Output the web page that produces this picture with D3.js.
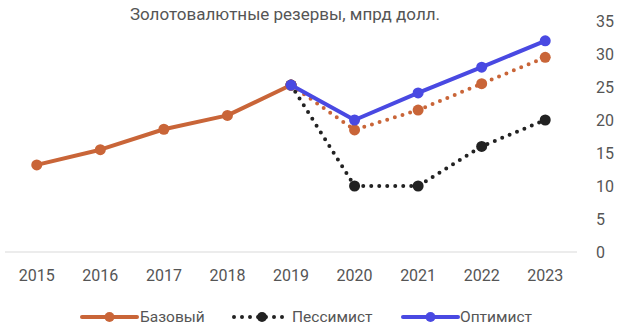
<!DOCTYPE html>
<html><head><meta charset="utf-8">
<script src="https://cdn.jsdelivr.net/npm/d3@7"></script>
<style>body{margin:0;background:#fff}svg{display:block;font-family:Roboto,"Noto Sans",sans-serif}</style>
</head><body><svg id="c" width="620" height="329"></svg>
<script>
const years = ["2015","2016","2017","2018","2019","2020","2021","2022","2023"];
const baseHist = [13.2, 15.5, 18.6, 20.7, 25.3, null, null, null, null];
const baseForecast = [null, null, null, null, 25.3, 18.5, 21.5, 25.5, 29.5];
const pessimist = [null, null, null, null, 25.3, 10, 10, 16, 20];
const optimist = [null, null, null, null, 25.3, 20, 24.1, 28, 32];
const yTicks = [0,5,10,15,20,25,30,35];
const title = "Золотовалютные резервы, мпрд долл.";
const legendNames = ["Базовый","Пессимист","Оптимист"];

const cBase = "#C96538", cPes = "#222222", cOpt = "#4949E2";
const svg = d3.select("#c");
const x = d3.scaleBand().domain(years).range([5, 577]);
const y = d3.scaleLinear().domain([0,35]).range([252, 21]);
const cx = d => x(d) + x.bandwidth()/2;

svg.append("text").attr("x",285).attr("y",20).attr("text-anchor","middle")
  .attr("font-size",17).attr("fill","#555").text(title);

// baseline
svg.append("line").attr("x1",5).attr("x2",577).attr("y1",y(0)).attr("y2",y(0))
  .attr("stroke","#d9d9d9").attr("stroke-width",1);

// right axis
const ya = d3.axisRight(y).tickValues(yTicks).tickSize(0).tickPadding(0);
const gy = svg.append("g").attr("transform","translate(596,0)").call(ya);
gy.select(".domain").remove();
gy.selectAll("text").attr("font-size",16).attr("fill","#555").attr("font-family","Roboto,sans-serif");

const xa = d3.axisBottom(x).tickSize(0).tickPadding(0);
const gx = svg.append("g").attr("transform","translate(0,270)").call(xa);
gx.select(".domain").remove();
gx.selectAll("text").attr("font-size",16).attr("fill","#555").attr("font-family","Roboto,sans-serif");

function series(vals, color, dotted, width, r) {
  const pts = years.map((yr,i)=>({yr, v: vals[i]})).filter(p=>p.v!=null);
  const line = d3.line().x(p=>cx(p.yr)).y(p=>y(p.v));
  const path = svg.append("path").datum(pts).attr("d", line).attr("fill","none")
    .attr("stroke", color).attr("stroke-width", width).attr("stroke-linecap","round").attr("stroke-linejoin","round");
  if (dotted) path.attr("stroke-dasharray","0 8");
  svg.append("g").selectAll("circle").data(pts).join("circle")
    .attr("cx", p=>cx(p.yr)).attr("cy", p=>y(p.v)).attr("r", r).attr("fill", color);
}
series(baseForecast, cBase, true, 4, 5.5);
series(pessimist, cPes, true, 4, 5.5);
series(baseHist, cBase, false, 4, 5.5);
series(optimist, cOpt, false, 4, 5.5);

// legend
const ly = 317;
const leg = [
  {name: legendNames[0], color: cBase, dotted:false, x1: 82, x2: 137, tx: 140},
  {name: legendNames[1], color: cPes, dotted:true, x1: 234, x2: 290, tx: 292},
  {name: legendNames[2], color: cOpt, dotted:false, x1: 403, x2: 458, tx: 460}
];
leg.forEach(l=>{
  const ln = svg.append("line").attr("x1",l.x1).attr("x2",l.x2).attr("y1",ly).attr("y2",ly)
    .attr("stroke",l.color).attr("stroke-width",4).attr("stroke-linecap","round");
  if (l.dotted) ln.attr("stroke-dasharray","0 8");
  svg.append("circle").attr("cx",(l.x1+l.x2)/2).attr("cy",ly).attr("r",5).attr("fill",l.color);
  svg.append("text").attr("x",l.tx).attr("y",ly).attr("dy","0.35em").attr("font-size",15.5)
    .attr("fill","#555").text(l.name);
});
</script></body></html>
